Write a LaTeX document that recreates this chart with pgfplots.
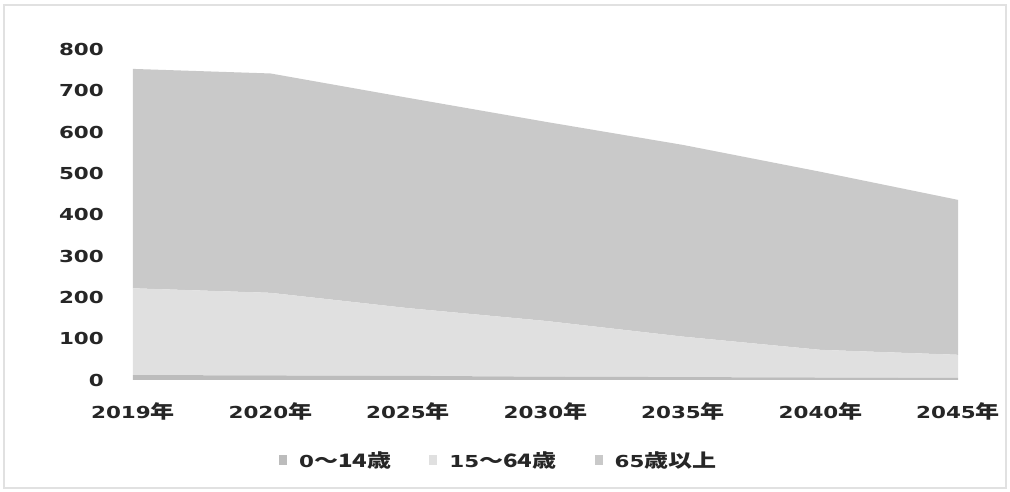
\documentclass[border=0pt]{standalone}
\usepackage{pgfplots}
\pgfplotsset{compat=1.18}
\usepackage{fontspec}
\setmainfont{DejaVu Sans}[FakeStretch=1.3]
\newfontfamily\cjk{Noto Sans CJK JP}[Scale=1.12, FakeStretch=1.3]
\definecolor{cA}{RGB}{188,188,188}
\definecolor{cB}{RGB}{224,224,224}
\definecolor{cC}{RGB}{201,201,201}
\definecolor{frame}{RGB}{225,225,225}
\begin{document}
\begin{tikzpicture}
\fill[white] (0,0) rectangle (1010pt,492pt);
\draw[frame, line width=1.2pt] (4pt,4pt) rectangle (1006pt,487pt);
\begin{axis}[
  at={(133pt,112pt)}, anchor=south west,
  scale only axis, width=825pt, height=330.5pt,
  xmin=0, xmax=6, ymin=0, ymax=800,
  xtick={0,...,6},
  xticklabels={2019\cjk{年},2020\cjk{年},2025\cjk{年},2030\cjk{年},2035\cjk{年},2040\cjk{年},2045\cjk{年}},
  ytick={0,100,...,800},
  axis line style={draw=none},
  major tick length=0pt,
  /pgf/number format/assume math mode=true,
  font=\bfseries\fontsize{16.5}{19}\selectfont,
  text=black!85,
  yticklabel style={anchor=east, inner sep=0pt, xshift=-29pt},
  xticklabel style={anchor=north, inner sep=0pt, yshift=-22pt},
  stack plots=y,
  legend columns=3,
  legend style={draw=none, fill=none, at={(0.177,0)}, anchor=west, yshift=-80pt,
    font=\bfseries\fontsize{16.5}{19}\selectfont, text=black!85,
    inner sep=0pt, nodes={inner sep=0pt, anchor=west},
    /tikz/every odd column/.append style={column sep=12pt},
    /tikz/every even column/.append style={column sep=38pt}},
  legend image code/.code={\fill[#1] (0pt,-5pt) rectangle (8pt,5pt);},
]
\addplot[fill=cA, draw=none] coordinates {(0,12) (1,11) (2,10) (3,8) (4,7) (5,6) (6,5)} \closedcycle;
\addlegendentry{0\cjk{～}14\cjk{歳}}
\addplot[fill=cB, draw=none] coordinates {(0,210) (1,200) (2,164) (3,135) (4,98) (5,67) (6,56)} \closedcycle;
\addlegendentry{15\cjk{～}64\cjk{歳}}
\addplot[fill=cC, draw=none] coordinates {(0,531) (1,531) (2,509) (3,482) (4,464) (5,431) (6,375)} \closedcycle;
\addlegendentry{65\cjk{歳以上}}
\end{axis}
\end{tikzpicture}
\end{document}
